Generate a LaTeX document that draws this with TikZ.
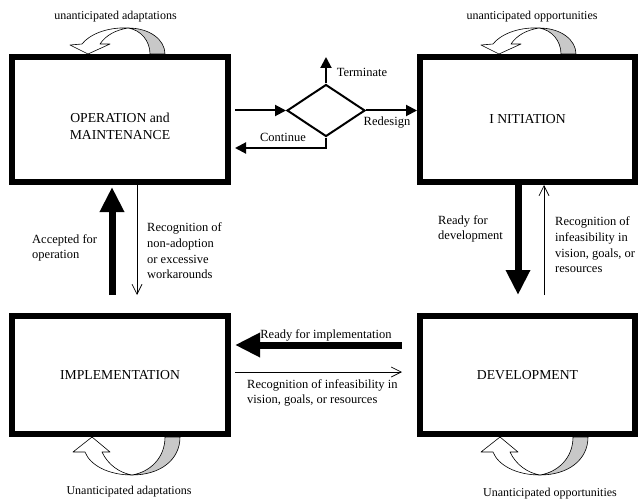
\documentclass[tikz,border=0pt]{standalone}
\usepackage{fontspec}
\setmainfont{Liberation Serif}
\usetikzlibrary{arrows.meta,shapes.geometric}
\definecolor{backshade}{HTML}{C8C8C8}
\begin{document}
\begin{tikzpicture}[x=1pt,y=-1pt,
  box/.style={draw,line width=6pt,minimum width=216pt,minimum height=125pt,inner sep=0pt,font=\fontsize{13.7}{16.5}\selectfont,align=center},
  boxtext/.style={font=\fontsize{13.7}{16.5}\selectfont,align=center,inner sep=0pt},
  lbl/.style={font=\fontsize{12.5}{15.7}\selectfont,align=left,inner sep=0pt},
  looplbl/.style={font=\fontsize{12}{14}\selectfont,inner sep=0pt},
  med/.style={line width=2pt,-{Triangle[length=11pt,width=11pt]}},
  fat/.style={line width=7pt,-{Triangle[length=25pt,width=23pt]}},
  slim/.style={line width=0.7pt,-{Straight Barb[length=10pt,width=10pt]}},
  loopfront/.style={draw,line width=0.6pt,fill=white,line join=round},
  loopback/.style={draw,line width=0.6pt,fill=backshade,line join=round}]
\useasboundingbox (0,0) rectangle (639,500);

% boxes
\node[box] (OM) at (120,119.5) {};
\node[boxtext] (omtext) at (120,126.5) {OPERATION and\\MAINTENANCE};
\node[box,minimum width=215pt] (IN) at (527.5,119.5) {I NITIATION};
\node[box,minimum height=118pt] (IM) at (120,375) {IMPLEMENTATION};
\node[box,minimum width=215pt,minimum height=118pt] (DV) at (527.5,375) {DEVELOPMENT};

% decision diamond
\node[draw,diamond,line width=2pt,minimum width=78pt,minimum height=52pt,inner sep=0pt] (D) at (326,110.5) {};
\coordinate (T) at (326,57);
\draw[med,shorten <=4pt] (D.west -| OM.east) -- (D.west);
\draw[med] (D.east) -- (D.east -| IN.west);
\draw[med] (D.north) -- (T);
\draw[med,shorten >=4pt] (D.south) |- ([yshift=-28.5pt]OM.east);
\node[lbl] (lterm) at (362,72) {Terminate};
\node[lbl] (lredes) at (387,123) {Redesign};
\node[lbl] (lcont) at (283,137) {Continue};

% OM <-> IM
\draw[fat] ([xshift=-8pt,yshift=18pt]IM.north) -- ([xshift=-8pt,yshift=-2pt]OM.south);
\draw[slim] ([xshift=17pt]OM.south) -- ([xshift=17pt,yshift=18pt]IM.north);
\node[lbl,anchor=west] (lacc) at (32,248) {Accepted for\\operation};
\node[lbl,anchor=west] (lnon) at (147,251) {Recognition of\\non-adoption\\or excessive\\workarounds};

% IN <-> DV
\draw[fat] ([xshift=-9.5pt]IN.south) -- ([xshift=-9.5pt,yshift=18pt]DV.north);
\draw[slim] ([xshift=16.5pt,yshift=18pt]DV.north) -- ([xshift=16.5pt]IN.south);
\node[lbl,anchor=west] (lready) at (438,229) {Ready for\\development};
\node[lbl,anchor=west] (linf) at (555,245) {Recognition of\\infeasibility in\\vision, goals, or\\resources};

% DV <-> IM
\draw[fat] ([xshift=-15pt,yshift=30pt]DV.west) -- ([xshift=4pt,yshift=30pt]IM.east);
\draw[slim] ([xshift=4pt,yshift=3pt]IM.east) -- ([xshift=-15pt,yshift=3pt]DV.west);
\node[lbl] (lrimp) at (326,335) {Ready\ for\ implementation};
\node[lbl,anchor=west] (linf2) at (247,393) {Recognition of infeasibility in\\vision, goals, or resources};

% top loops
\foreach \dx/\nm in {0/a,411/b}{
  \begin{scope}[xshift=\dx pt]
    \draw[loopback] (128,28) .. controls (150,28) and (165,40) .. (165,54) -- (150,54) .. controls (150,41) and (141,30) .. (128,28) -- cycle;
    \draw[loopfront] (128,28) .. controls (106,27) and (89,35) .. (82,44) -- (70,45) -- (88,54) -- (110,44) -- (100,44) .. controls (106,35) and (116,30) .. (128,28) -- cycle;
  \end{scope}
}
% bottom loops
\foreach \dx in {0,408}{
  \begin{scope}[xshift=\dx pt]
    \draw[loopback] (132,475) .. controls (160,475) and (180,460) .. (180,437) -- (165,437) .. controls (165,458) and (150,472) .. (132,475) -- cycle;
    \draw[loopfront] (132,475) .. controls (108,475) and (90,465) .. (85,452) -- (73,452) -- (92,437) -- (110,452) -- (102,452) .. controls (108,465) and (120,473) .. (132,475) -- cycle;
  \end{scope}
}
\node[looplbl] (lua) at (115.5,17) {unanticipated adaptations};
\node[looplbl] (luo) at (532,17) {unanticipated opportunities};
\node[looplbl] (lUa) at (129,492) {Unanticipated adaptations};
\node[looplbl] (lUo) at (550,494) {Unanticipated opportunities};
\end{tikzpicture}
\end{document}
